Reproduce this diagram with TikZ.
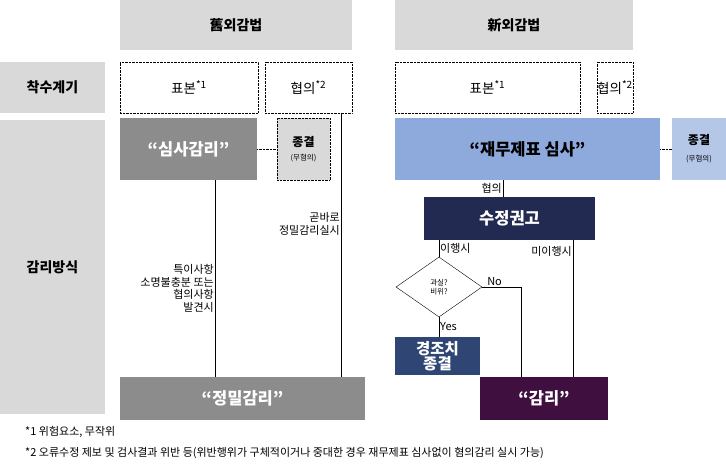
\documentclass[tikz,border=0pt]{standalone}
\usepackage{fontspec}
\setmainfont{Noto Sans CJK KR}
\usetikzlibrary{shapes.geometric}
\definecolor{hdgray}{HTML}{D9D9D9}
\definecolor{midgray}{HTML}{8C8C8C}
\definecolor{skyblue}{HTML}{8EA9DB}
\definecolor{paleblue}{HTML}{B4C7E7}
\definecolor{navy}{HTML}{222A52}
\definecolor{steel}{HTML}{2F4573}
\definecolor{plum}{HTML}{3F0F3F}
\newcommand{\sups}[1]{\textsuperscript{\fontsize{10}{10}\selectfont #1}}
\begin{document}
\begin{tikzpicture}[x=1pt, y=-1pt,
  box/.style={inner sep=0pt, font=\fontsize{16.5}{18}\selectfont\bfseries},
  dotbox/.style={draw, densely dotted, inner sep=0pt, font=\fontsize{13.5}{15}\selectfont},
  lbl/.style={font=\fontsize{11}{12.5}\selectfont, inner sep=1pt, align=right},
  side/.style={fill=hdgray, inner sep=0pt, font=\fontsize{14}{16}\selectfont\bfseries}]
\useasboundingbox (0,0) rectangle (726,467);
% side column
\node[side, minimum width=105, minimum height=51] (start) at (52.5,87.5) {착수계기};
\node[side, minimum width=105, minimum height=294] (method) at (52.5,267) {감리방식};
% headers
\node[side, minimum width=232, minimum height=50] (old) at (236,25) {舊외감법};
\node[side, minimum width=238, minimum height=50] (new) at (514,25) {新외감법};
% triggers
\node[dotbox, minimum width=138, minimum height=51] (sample1) at (189,87.5) {표본\sups{*1}};
\node[dotbox, minimum width=87, minimum height=51] (consult1) at (308.5,87.5) {협의\sups{*2}};
\node[dotbox, minimum width=185, minimum height=51] (sample2) at (487.5,87.5) {표본\sups{*1}};
\node[dotbox, minimum width=36, minimum height=51] (consult2) at (615,87.5) {협의\sups{*2}};
% old law
\node[box, fill=midgray, text=white, minimum width=137, minimum height=62] (review1) at (188.5,149) {“심사감리”};
\node[dotbox, fill=hdgray, minimum width=53, minimum height=62, align=center] (end1) at (303.5,149)
  {\fontsize{12}{12}\selectfont\bfseries 종결\\[-1pt]\fontsize{7.5}{8}\selectfont (무혐의)};
\draw[densely dotted] (review1) -- (end1);
\node[box, fill=midgray, text=white, minimum width=245, minimum height=43] (precise) at (242.5,398.5) {“정밀감리”};
\draw (215,180) -- node[lbl, left, pos=0.55]{특이사항\\소명불충분 또는\\협의사항\\발견시} (215,377);
\draw (341,113) -- node[lbl, left, pos=0.42]{곧바로\\정밀감리실시} (341,377);
% new law
\node[box, fill=skyblue, minimum width=265, minimum height=62] (review2) at (527.5,149) {“재무제표 심사”};
\node[box, fill=paleblue, minimum width=54, minimum height=62, align=center] (end2) at (699,149)
  {\fontsize{12}{12}\selectfont\bfseries 종결\\[-1pt]\fontsize{7.5}{8}\selectfont\mdseries (무혐의)};
\draw[densely dotted] (review2) -- (end2);
\node[box, fill=navy, text=white, minimum width=171, minimum height=43] (advise) at (509.5,218.5) {수정권고};
\draw (503,180) -- node[lbl, left]{협의} (503,197);
\node[diamond, draw, fill=white, minimum width=86, minimum height=60, inner sep=0pt, align=center,
  font=\fontsize{7.5}{8.5}\selectfont] (fault) at (439,287) {과실?\\비위?};
\draw (439,240) -- node[lbl, right]{이행시} (fault.north);
\node[box, fill=steel, text=white, minimum width=85, minimum height=38, align=center,
  font=\fontsize{15.5}{15}\selectfont\bfseries] (light) at (437.5,356) {경조치\\종결};
\draw (fault.south) -- node[lbl, right]{Yes} (light.north -| fault.south);
\node[box, fill=plum, text=white, minimum width=128, minimum height=43] (audit) at (544,398.5) {“감리”};
\draw (fault.east) -- node[lbl, above right, pos=0.1]{No} (521,287) -- (521,377);
\draw (573,240) -- node[lbl, left, pos=0.08]{미이행시} (573,377);
% footnotes
\node[lbl, anchor=west, align=left] (note1) at (24,432) {*1 위험요소, 무작위};
\node[lbl, anchor=west, align=left] (note2) at (24,453) {*2 오류수정 제보 및 검사결과 위반 등(위반행위가 구체적이거나 중대한 경우 재무제표 심사없이 혐의감리 실시 가능)};
\end{tikzpicture}
\end{document}
